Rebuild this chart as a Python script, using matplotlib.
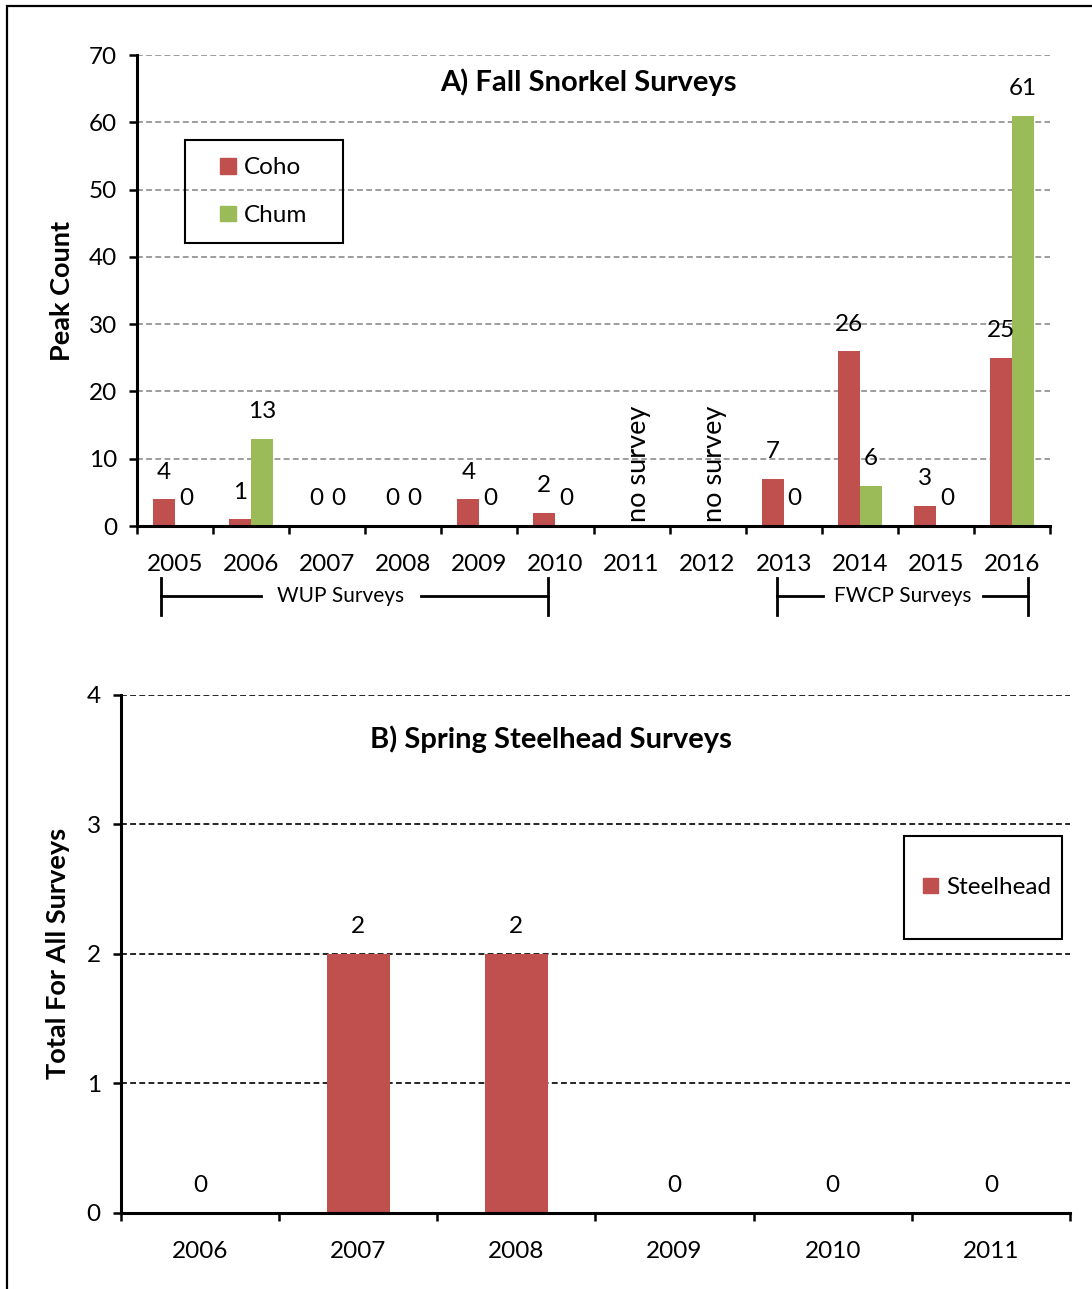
import numpy as np
import matplotlib.pyplot as plt
from matplotlib.patches import Rectangle, Patch
from matplotlib.transforms import blended_transform_factory

plt.rcParams['font.family'] = ['Lato', 'DejaVu Sans']

# fall snorkel surveys (peak counts), NaN = no survey that year
years_a = ['2005', '2006', '2007', '2008', '2009', '2010',
           '2011', '2012', '2013', '2014', '2015', '2016']
coho = [4, 1, 0, 0, 4, 2, np.nan, np.nan, 7, 26, 3, 25]
chum = [0, 13, 0, 0, 0, 0, np.nan, np.nan, 0, 6, 0, 61]

# spring steelhead surveys
years_b = ['2006', '2007', '2008', '2009', '2010', '2011']
steelhead = [0, 2, 2, 0, 0, 0]

red = '#C0504D'
green = '#9BBB59'
fs = 17.5

fig = plt.figure(figsize=(10.92, 12.89), dpi=100)

# outer frame (right and bottom edges fall outside the canvas)
fig.patches.append(Rectangle((7 / 1092, -0.1), 1.2, 1.1 - 6 / 1289,
                             transform=fig.transFigure, fill=False,
                             edgecolor='black', linewidth=1.6))


def style_axes(ax, n, grid_color):
    ax.set_xlim(-0.5, n - 0.5)
    for s in ['top', 'right']:
        ax.spines[s].set_visible(False)
    for s in ['left', 'bottom']:
        ax.spines[s].set_linewidth(2.2)
    ax.set_xticks(np.arange(n))
    ax.set_xticks(np.arange(n + 1) - 0.5, minor=True)
    ax.tick_params(axis='x', which='major', length=0, pad=20, labelsize=fs)
    ax.tick_params(axis='x', which='minor', length=6, width=1.8, direction='out')
    ax.tick_params(axis='y', length=5.5, width=1.8, pad=9, labelsize=fs)
    ax.yaxis.grid(True, linestyle=(0, (3.5, 2)), color=grid_color, linewidth=1.2)
    ax.set_axisbelow(True)


def label_bars(ax, xs, vals):
    for x, v in zip(xs, vals):
        if np.isnan(v):
            continue
        ax.annotate(f'{int(v)}', (x, v), xytext=(0, 19.5), textcoords='offset points',
                    ha='center', va='center', fontsize=fs)


# ---- A) Fall snorkel surveys
ax1 = fig.add_axes([0.1255, 0.5919, 0.836, 0.3654])
xa = np.arange(len(years_a))
w = 0.29
ax1.bar(xa - w / 2, coho, w, color=red)
ax1.bar(xa + w / 2, chum, w, color=green)
style_axes(ax1, len(years_a), '#8c8c8c')
ax1.set_ylim(0, 70)
ax1.set_yticks(range(0, 71, 10))
ax1.set_xticklabels(years_a)
label_bars(ax1, xa - w / 2, coho)
label_bars(ax1, xa + w / 2, chum)

for i, v in enumerate(coho):
    if np.isnan(v):
        ax1.text(i + 0.09, 0.6, 'no survey', rotation=90, ha='center', va='bottom',
                 fontsize=19.5)

ax1.text(0.494, 0.943, 'A) Fall Snorkel Surveys', transform=ax1.transAxes,
         ha='center', va='center', fontsize=21, fontweight='bold')
ax1.set_ylabel('Peak Count', fontsize=19.5, fontweight='bold', va='center')
ax1.yaxis.set_label_coords(-0.082, 0.5)

# legend with a hand-drawn frame
ax1.add_patch(Rectangle((0.0526, 0.601), 0.173, 0.2185, transform=ax1.transAxes,
                        fill=False, edgecolor='black', linewidth=1.5, zorder=5))
ax1.legend([Patch(color=red), Patch(color=green)], ['Coho', 'Chum'],
           loc='center', bbox_to_anchor=(0.139, 0.71), frameon=False,
           fontsize=fs, handlelength=0.62, handleheight=0.62,
           handletextpad=0.35, labelspacing=1.1)

# survey program brackets under the x axis
trans = blended_transform_factory(ax1.transData, ax1.transAxes)
brackets = [(-0.185, 4.90, 'WUP Surveys', 2.18), (7.91, 11.21, 'FWCP Surveys', 9.57)]
for x0, x1, name, xc in brackets:
    half = 1.05
    ax1.plot([x0, xc - half], [-0.149, -0.149], color='black', lw=2, transform=trans,
             clip_on=False)
    ax1.plot([xc + half, x1], [-0.149, -0.149], color='black', lw=2, transform=trans,
             clip_on=False)
    for xe in (x0, x1):
        ax1.plot([xe, xe], [-0.110, -0.189], color='black', lw=2, transform=trans,
                 clip_on=False)
    ax1.text(xc, -0.149, name, transform=trans, ha='center', va='center', fontsize=15)

# ---- B) Spring steelhead surveys
ax2 = fig.add_axes([0.1108, 0.059, 0.869, 0.4019])
xb = np.arange(len(years_b))
ax2.bar(xb, steelhead, 0.4, color=red)
style_axes(ax2, len(years_b), 'black')
ax2.set_ylim(0, 4)
ax2.set_yticks(range(0, 5))
ax2.set_xticklabels(years_b)
label_bars(ax2, xb, steelhead)

ax2.text(0.453, 0.915, 'B) Spring Steelhead Surveys', transform=ax2.transAxes,
         ha='center', va='center', fontsize=21, fontweight='bold')
ax2.set_ylabel('Total For All Surveys', fontsize=19.5, fontweight='bold', va='center')
ax2.yaxis.set_label_coords(-0.066, 0.5)

ax2.add_patch(Rectangle((0.825, 0.529), 0.1666, 0.1988, transform=ax2.transAxes,
                        fill=False, edgecolor='black', linewidth=1.5, zorder=5))
ax2.legend([Patch(color=red)], ['Steelhead'], loc='center',
           bbox_to_anchor=(0.913, 0.628), frameon=False, fontsize=fs,
           handlelength=0.62, handleheight=0.62, handletextpad=0.35)

fig.savefig('out.png', dpi=100)
